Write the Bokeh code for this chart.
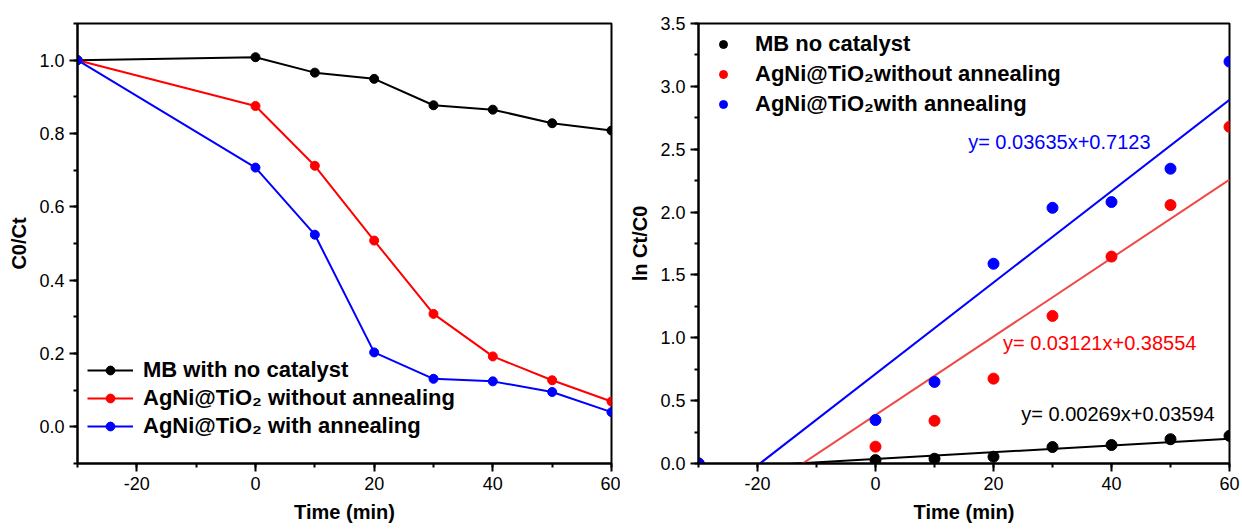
from bokeh.plotting import figure
from bokeh.layouts import row
from bokeh.models import Legend, LegendItem, Label, SingleIntervalTicker, PrintfTickFormatter
from bokeh.embed import file_html
from bokeh.resources import INLINE

# ---------------- data ----------------
time_min = [-30, 0, 10, 20, 30, 40, 50, 60]

# left panel: C0/Ct
c_mb = [1.0, 1.008, 0.966, 0.949, 0.877, 0.865, 0.828, 0.808]
c_noann = [1.0, 0.875, 0.712, 0.508, 0.308, 0.192, 0.127, 0.069]
c_ann = [1.0, 0.707, 0.524, 0.203, 0.131, 0.124, 0.095, 0.040]

# right panel: ln Ct/C0
ln_mb = [0.0, 0.027, 0.038, 0.054, 0.131, 0.147, 0.193, 0.220]
ln_noann = [0.0, 0.134, 0.340, 0.675, 1.174, 1.646, 2.056, 2.678]
ln_ann = [0.0, 0.346, 0.649, 1.589, 2.034, 2.080, 2.345, 3.197]

# linear fits (slope, intercept)
fit_slope = [0.00269, 0.03121, 0.03635]
fit_intercept = [0.03594, 0.38554, 0.7123]
fit_text = ["y= 0.00269x+0.03594", "y= 0.03121x+0.38554", "y= 0.03635x+0.7123"]
fit_x = [-30, 60]

left_labels = ["MB with no catalyst", "AgNi@TiO\u2082 without annealing", "AgNi@TiO\u2082 with annealing"]
right_labels = ["MB no catalyst", "AgNi@TiO\u2082without annealing", "AgNi@TiO\u2082with annealing"]

FONT = "Liberation Sans"
colors = ["#000000", "#ff0000", "#0000ff"]
fit_colors = ["#000000", "#f04848", "#0000ff"]


def style(p, x_int, y_int):
    p.xgrid.visible = False
    p.ygrid.visible = False
    p.outline_line_color = "black"
    p.outline_line_width = 2
    p.outline_line_alpha = 1
    p.xaxis.ticker = SingleIntervalTicker(interval=x_int, num_minor_ticks=2)
    p.yaxis.ticker = SingleIntervalTicker(interval=y_int, num_minor_ticks=2)
    p.xaxis.formatter = PrintfTickFormatter(format="%d")
    p.yaxis.formatter = PrintfTickFormatter(format="%.1f")
    for ax in (p.xaxis[0], p.yaxis[0]):
        ax.axis_line_width = 2
        ax.axis_line_color = "black"
        ax.major_tick_line_width = 2
        ax.minor_tick_line_width = 2
        ax.major_tick_out = 8
        ax.major_tick_in = 0
        ax.minor_tick_out = 4
        ax.minor_tick_in = 0
        ax.major_label_text_font = FONT
        ax.major_label_text_font_size = "18px"
        ax.major_label_text_color = "black"
        ax.major_label_standoff = 5
        ax.axis_label_text_font = FONT
        ax.axis_label_text_font_size = "20px"
        ax.axis_label_text_font_style = "bold"
        ax.axis_label_text_color = "black"
    p.xaxis.axis_label_standoff = 8
    p.yaxis.axis_label_standoff = 6
    p.background_fill_color = "white"
    p.border_fill_color = "white"


# ---------------- left panel ----------------
p1 = figure(width=620, height=530, x_range=(-30, 60), y_range=(-0.1, 1.1),
            output_backend="svg", toolbar_location=None,
            min_border_left=77, min_border_right=9, min_border_top=23, min_border_bottom=65)
style(p1, 20, 0.2)
p1.xaxis.axis_label = "Time (min)"
p1.yaxis.axis_label = "C0/Ct"

items = []
for ys, col, lab in zip([c_mb, c_noann, c_ann], colors, left_labels):
    l = p1.line(time_min, ys, line_color=col, line_width=2)
    s = p1.scatter(time_min, ys, size=9, color=col, marker="circle")
    items.append(LegendItem(label=lab, renderers=[l, s]))

leg1 = Legend(items=items, location=(10, 24), padding=0, margin=0,
              glyph_width=46, glyph_height=22, label_height=22, spacing=2,
              label_standoff=10, label_text_font=FONT, label_text_font_size="22px",
              label_text_font_style="bold", label_text_color="black",
              background_fill_alpha=0, border_line_alpha=0)
p1.add_layout(leg1)

# ---------------- right panel ----------------
p2 = figure(width=622, height=530, x_range=(-30, 60), y_range=(0, 3.5),
            output_backend="svg", toolbar_location=None,
            min_border_left=78, min_border_right=13, min_border_top=23, min_border_bottom=67)
style(p2, 20, 0.5)
p2.xaxis.axis_label = "Time (min)"
p2.yaxis.axis_label = "ln Ct/C0"

for a, b, col in zip(fit_slope, fit_intercept, fit_colors):
    p2.line(fit_x, [a * x + b for x in fit_x], line_color=col, line_width=2)

items2 = []
for ys, col, lab in zip([ln_mb, ln_noann, ln_ann], colors, right_labels):
    s = p2.scatter(time_min, ys, size=11, color=col, marker="circle")
    items2.append(LegendItem(label=lab, renderers=[s]))

leg2 = Legend(items=items2, location=(15, 346), padding=0, margin=0,
              glyph_width=20, glyph_height=22, label_height=22, spacing=4,
              label_standoff=22, label_text_font=FONT, label_text_font_size="22px",
              label_text_font_style="bold", label_text_color="black",
              background_fill_alpha=0, border_line_alpha=0)
p2.add_layout(leg2)

label_pos = [(24.7, 0.39), (21.6, 0.955), (15.7, 2.56)]
for (lx, ly), txt, col in zip(label_pos, fit_text, colors):
    p2.add_layout(Label(x=lx, y=ly, text=txt, text_color=col, text_font=FONT,
                        text_font_size="20px", text_baseline="middle", text_align="left"))

layout = row(p1, p2, spacing=0)
open("out.html", "w").write(file_html(layout, INLINE))
